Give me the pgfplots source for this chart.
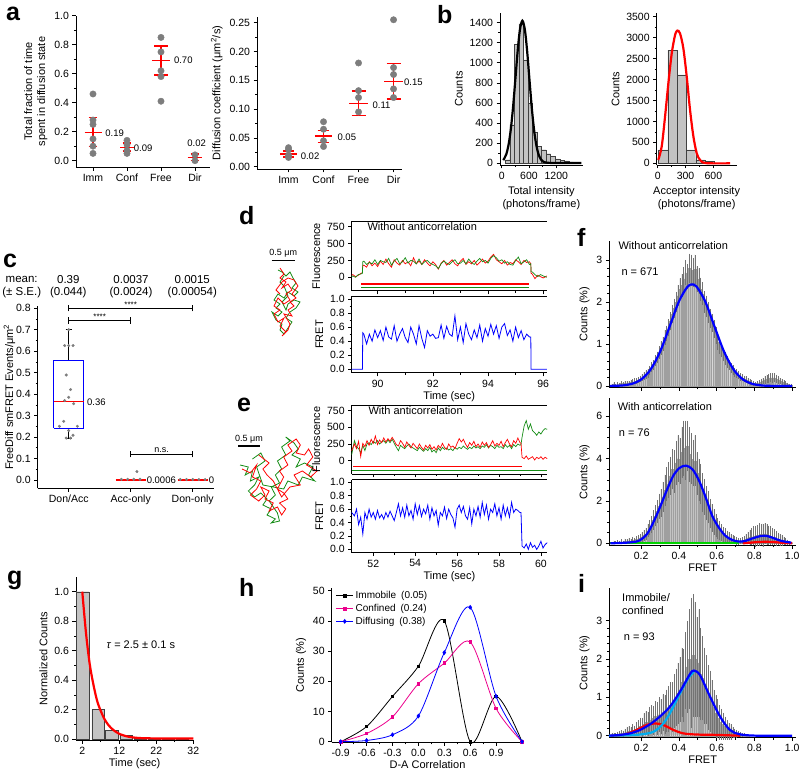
\documentclass[border=0pt]{standalone}
\usepackage{fontspec}
\setmainfont{Liberation Sans}
\usepackage{pgfplots}
\usepackage{pgfplotstable}
\pgfplotsset{compat=1.18}
\newcommand\fs[1]{\fontsize{#1}{#1}\selectfont}
\definecolor{dgreen}{RGB}{20,140,20}
\definecolor{hgray}{RGB}{195,195,195}
\definecolor{dotgray}{RGB}{125,125,125}
\definecolor{fgreen}{RGB}{0,210,0}
\pgfplotsset{
  base/.style={scale only axis, anchor=south west, tick align=outside,
    axis line style={black, line width=0.6pt}, tick style={black, line width=0.6pt},
    major tick length=3.5pt, minor tick length=2pt,
    tick label style={font=\fontsize{10.5}{12}\selectfont},
    label style={font=\fontsize{11}{13}\selectfont},
    /pgf/number format/assume math mode=true, /pgf/number format/1000 sep={},
    scaled ticks=false, clip=false, unbounded coords=jump},
  la/.style={base, axis x line*=bottom, axis y line*=left, xtick pos=left, ytick pos=left},
  bx/.style={base, axis x line*=box, axis y line*=left, xtick pos=left, ytick pos=left},
  p1/.style={yticklabel style={/pgf/number format/.cd,fixed,fixed zerofill,precision=1}},
  p2/.style={yticklabel style={/pgf/number format/.cd,fixed,fixed zerofill,precision=2}},
  hist/.style={ybar, bar width=0.0085, bar shift=0pt, fill=hgray, draw=gray!75, line width=0.15pt,
    error bars/.cd, y dir=both, y explicit, error mark=none, error bar style={black!55, line width=0.3pt}},
}
% ---------------- data tables ----------------
\pgfplotstableread{
t r g f
89.06 30 10 0
89.1 40 20 0
89.2 10 0 0
89.3 30 40 0
89.4 60 50 0
89.45 70 60 0
89.46 170 230 0.52
89.5 180 240 0.5
89.6 150 190 0.36
89.7 230 220 0.5
89.8 170 200 0.4
89.9 210 260 0.56
90.0 160 190 0.45
90.1 240 250 0.55
90.2 190 230 0.41
90.3 270 220 0.6
90.4 200 280 0.46
90.5 150 180 0.43
90.6 260 240 0.62
90.7 210 280 0.4
90.8 180 200 0.5
90.9 250 230 0.58
91.0 200 290 0.45
91.1 230 210 0.38
91.2 170 250 0.6
91.3 290 240 0.5
91.4 200 200 0.36
91.5 240 270 0.62
91.6 190 190 0.44
91.7 260 230 0.31
91.8 210 250 0.55
91.9 170 210 0.47
92.0 230 190 0.5
92.1 190 170 0.44
92.2 120 130 0.45
92.3 210 200 0.63
92.4 250 240 0.44
92.5 180 210 0.61
92.6 220 190 0.5
92.7 260 230 0.47
92.8 200 260 0.76
92.9 170 200 0.42
93.0 240 210 0.6
93.1 280 250 0.38
93.2 190 200 0.65
93.3 230 270 0.5
93.4 200 220 0.42
93.5 250 190 0.56
93.6 180 240 0.45
93.7 220 280 0.63
93.8 270 230 0.4
93.9 210 250 0.58
94.0 240 210 0.47
94.1 300 280 0.64
94.2 340 320 0.5
94.3 260 290 0.62
94.4 230 240 0.44
94.5 200 260 0.6
94.6 250 210 0.65
94.7 180 230 0.48
94.8 220 190 0.56
94.9 200 180 0.4
95.0 260 250 0.6
95.1 230 300 0.45
95.2 190 200 0.55
95.3 250 230 0.42
95.4 220 260 0.5
95.5 230 190 0.46
95.55 200 200 0.46
95.56 60 80 0
95.6 50 80 0
95.7 -20 40 0
95.8 30 10 0
95.9 10 40 0
96.0 -10 20 0
96.13 20 0 0
}\dtab
\pgfplotstableread{
t r g f
50.97 150 90 0.55
51.1 250 300 0.5
51.2 180 210 0.6
51.3 290 180 0.37
51.4 60 120 0.48
51.5 260 230 0.23
51.6 210 150 0.55
51.7 300 250 0.45
51.8 230 270 0.6
51.9 320 240 0.48
52.0 260 290 0.55
52.1 370 260 0.45
52.2 240 300 0.58
52.3 310 250 0.47
52.4 270 280 0.52
52.5 340 300 0.45
52.6 280 260 0.55
52.7 330 310 0.48
52.8 290 270 0.57
52.9 350 320 0.5
53.0 300 260 0.43
53.1 240 200 0.55
53.2 220 150 0.68
53.3 300 230 0.5
53.4 260 200 0.62
53.5 200 180 0.48
53.6 280 220 0.66
53.7 230 250 0.5
53.8 190 210 0.58
53.9 260 190 0.45
54.0 220 170 0.68
54.1 180 150 0.52
54.2 250 200 0.65
54.3 200 170 0.49
54.4 160 140 0.6
54.5 230 180 0.53
54.6 190 150 0.66
54.7 240 200 0.45
54.8 170 130 0.62
54.9 210 160 0.5
55.0 160 120 0.58
55.1 230 190 0.36
55.2 190 150 0.55
55.3 260 200 0.5
55.4 200 170 0.63
55.5 170 190 0.46
55.6 250 160 0.6
55.7 200 180 0.52
55.8 220 150 0.47
55.9 180 200 0.33
56.0 260 170 0.6
56.1 330 200 0.66
56.2 280 180 0.55
56.3 320 220 0.64
56.4 250 190 0.5
56.5 200 170 0.45
56.6 270 200 0.62
56.7 230 180 0.38
56.8 290 220 0.6
56.9 210 190 0.5
57.0 250 210 0.64
57.1 200 180 0.48
57.2 280 220 0.7
57.3 230 200 0.52
57.4 270 240 0.66
57.5 200 190 0.45
57.6 240 230 0.6
57.7 300 210 0.55
57.8 220 180 0.68
57.9 260 230 0.5
58.0 230 200 0.62
58.1 290 210 0.45
58.2 210 180 0.66
58.3 270 240 0.5
58.4 320 200 0.62
58.5 250 230 0.48
58.6 210 180 0.7
58.7 300 240 0.55
58.8 260 210 0.6
58.9 340 250 0.58
59.0 270 230 0.55
59.05 260 240 0.55
59.1 50 350 0.05
59.2 30 520 0.02
59.3 70 600 0.08
59.4 20 470 0.0
59.5 40 550 0.1
59.6 60 450 0.03
59.7 10 420 0.06
59.8 50 380 0.0
59.9 30 430 0.05
60.0 60 400 0.12
60.1 20 450 0.02
60.2 50 480 0.07
60.3 30 470 0.1
}\etab
\pgfplotstableread{
x y e
0.045 0.03 0.03
0.055 0.05 0.04
0.065 0.02 0.03
0.075 0.05 0.04
0.085 0.04 0.04
0.095 0.06 0.05
0.105 0.05 0.04
0.115 0.07 0.05
0.125 0.06 0.05
0.135 0.08 0.05
0.145 0.09 0.06
0.155 0.1 0.06
0.165 0.12 0.06
0.175 0.11 0.07
0.185 0.15 0.07
0.195 0.17 0.08
0.205 0.2 0.08
0.215 0.24 0.09
0.225 0.27 0.1
0.235 0.3 0.1
0.245 0.37 0.11
0.255 0.45 0.12
0.265 0.5 0.12
0.275 0.6 0.13
0.285 0.68 0.14
0.295 0.8 0.15
0.305 0.9 0.16
0.315 1.0 0.17
0.325 1.15 0.18
0.335 1.25 0.19
0.345 1.4 0.2
0.355 1.55 0.21
0.365 1.72 0.22
0.375 1.85 0.23
0.385 2.0 0.24
0.395 2.15 0.25
0.405 2.3 0.26
0.415 2.4 0.27
0.425 2.55 0.28
0.435 2.7 0.3
0.445 2.6 0.3
0.455 2.8 0.35
0.465 2.75 0.38
0.475 2.7 0.35
0.485 2.78 0.35
0.495 2.55 0.3
0.505 2.5 0.3
0.515 2.3 0.28
0.525 2.2 0.27
0.535 2.0 0.26
0.545 1.9 0.25
0.555 1.75 0.24
0.565 1.6 0.23
0.575 1.5 0.22
0.585 1.35 0.21
0.595 1.2 0.2
0.605 1.05 0.19
0.615 0.95 0.18
0.625 0.85 0.17
0.635 0.75 0.16
0.645 0.65 0.15
0.655 0.58 0.14
0.665 0.5 0.13
0.675 0.42 0.12
0.685 0.38 0.11
0.695 0.33 0.11
0.705 0.3 0.1
0.715 0.26 0.1
0.725 0.22 0.09
0.735 0.2 0.09
0.745 0.17 0.08
0.755 0.15 0.08
0.765 0.12 0.07
0.775 0.1 0.07
0.785 0.08 0.06
0.795 0.06 0.05
0.805 0.05 0.05
0.815 0.06 0.05
0.825 0.08 0.06
0.835 0.1 0.07
0.845 0.12 0.08
0.855 0.15 0.09
0.865 0.17 0.1
0.875 0.18 0.1
0.885 0.2 0.11
0.895 0.19 0.11
0.905 0.2 0.11
0.915 0.17 0.1
0.925 0.15 0.09
0.935 0.12 0.08
0.945 0.1 0.07
0.955 0.08 0.06
0.965 0.06 0.05
0.975 0.04 0.04
0.985 0.03 0.03
0.995 0.02 0.03
}\ftop
\pgfplotstableread{
x y e
0.045 0.02 0.05
0.055 0.05 0.08
0.065 0.03 0.06
0.075 0.06 0.08
0.085 0.04 0.07
0.095 0.08 0.1
0.105 0.05 0.08
0.115 0.1 0.12
0.125 0.08 0.1
0.135 0.12 0.13
0.145 0.1 0.12
0.155 0.15 0.15
0.165 0.12 0.13
0.175 0.18 0.16
0.185 0.2 0.17
0.195 0.25 0.2
0.205 0.3 0.22
0.215 0.38 0.25
0.225 0.45 0.28
0.235 0.6 0.32
0.245 0.75 0.36
0.255 0.9 0.4
0.265 1.1 0.45
0.275 1.3 0.5
0.285 1.5 0.55
0.295 1.75 0.6
0.305 1.9 0.65
0.315 2.2 0.7
0.325 2.5 0.75
0.335 2.8 0.8
0.345 3.0 0.85
0.355 3.2 0.9
0.365 3.5 0.95
0.375 3.4 1.0
0.385 3.8 1.05
0.395 4.0 1.1
0.405 3.9 1.1
0.415 4.3 1.2
0.425 4.5 1.3
0.435 4.4 1.4
0.445 4.6 1.2
0.455 4.2 1.3
0.465 4.0 1.2
0.475 3.8 1.1
0.485 3.9 1.2
0.495 3.3 1.0
0.505 3.0 1.0
0.515 2.8 0.95
0.525 2.4 0.9
0.535 2.2 0.85
0.545 1.9 0.8
0.555 1.7 0.75
0.565 1.4 0.7
0.575 1.2 0.65
0.585 1.0 0.6
0.595 0.85 0.55
0.605 0.7 0.5
0.615 0.6 0.45
0.625 0.5 0.4
0.635 0.4 0.38
0.645 0.35 0.35
0.655 0.3 0.3
0.665 0.25 0.28
0.675 0.2 0.25
0.685 0.18 0.22
0.695 0.15 0.2
0.705 0.12 0.18
0.715 0.1 0.16
0.725 0.1 0.15
0.735 0.12 0.16
0.745 0.15 0.2
0.755 0.2 0.25
0.765 0.25 0.3
0.775 0.28 0.35
0.785 0.3 0.4
0.795 0.35 0.45
0.805 0.32 0.5
0.815 0.38 0.5
0.825 0.4 0.55
0.835 0.42 0.5
0.845 0.38 0.55
0.855 0.45 0.5
0.865 0.4 0.5
0.875 0.38 0.45
0.885 0.35 0.45
0.895 0.3 0.4
0.905 0.28 0.38
0.915 0.22 0.35
0.925 0.2 0.3
0.935 0.15 0.28
0.945 0.12 0.25
0.955 0.1 0.2
0.965 0.08 0.18
0.975 0.05 0.12
0.985 0.03 0.1
0.995 0.02 0.06
}\fbot
\pgfplotstableread{
x y e
0.045 0.02 0.04
0.055 0.03 0.05
0.065 0.02 0.04
0.075 0.04 0.06
0.085 0.05 0.07
0.095 0.06 0.08
0.105 0.05 0.08
0.115 0.08 0.1
0.125 0.1 0.12
0.135 0.12 0.13
0.145 0.1 0.12
0.155 0.15 0.15
0.165 0.12 0.14
0.175 0.18 0.18
0.185 0.2 0.2
0.195 0.25 0.22
0.205 0.22 0.25
0.215 0.3 0.28
0.225 0.35 0.3
0.235 0.3 0.32
0.245 0.4 0.35
0.255 0.45 0.35
0.265 0.4 0.38
0.275 0.5 0.4
0.285 0.45 0.42
0.295 0.55 0.45
0.305 0.5 0.45
0.315 0.6 0.48
0.325 0.55 0.5
0.335 0.65 0.55
0.345 0.7 0.6
0.355 0.8 0.6
0.365 0.75 0.65
0.375 0.9 0.7
0.385 1.0 0.75
0.395 1.1 0.8
0.405 1.2 0.85
0.415 1.4 0.9
0.425 1.3 0.95
0.435 1.7 1.0
0.445 1.8 1.2
0.455 2.0 1.3
0.465 1.9 1.7
0.475 2.1 1.6
0.485 2.0 1.5
0.495 1.8 1.3
0.505 1.9 1.4
0.515 1.6 1.2
0.525 1.5 1.1
0.535 1.3 1.0
0.545 1.2 0.9
0.555 1.0 0.85
0.565 0.9 0.8
0.575 0.75 0.7
0.585 0.6 0.6
0.595 0.5 0.55
0.605 0.45 0.5
0.615 0.35 0.45
0.625 0.3 0.4
0.635 0.25 0.35
0.645 0.2 0.3
0.655 0.15 0.25
0.665 0.12 0.22
0.675 0.1 0.2
0.685 0.08 0.15
0.695 0.06 0.12
0.705 0.05 0.1
0.715 0.04 0.08
0.725 0.03 0.06
0.735 0.02 0.05
0.745 0.02 0.04
0.755 0.01 0.03
0.765 0.01 0.02
}\itab
\begin{document}
\begin{tikzpicture}[x=1pt,y=1pt]
\useasboundingbox (0,0) rectangle (800,770);
% ================= a (left) =================
\begin{axis}[la, p1, at={(76pt,602.8pt)}, width=134.3pt, height=151.5pt,
  xmin=0.5, xmax=4.45, ymin=-0.045, ymax=1.0,
  xtick={1,2,3,4}, xticklabels={Imm,Conf,Free,Dir},
  ytick={0,0.2,0.4,0.6,0.8,1.0}, minor y tick num=1,
  ylabel={Total fraction of time\\spent in diffusion state}, ylabel style={align=center}]
\addplot[only marks, mark=*, mark size=3.2pt, dotgray] coordinates {(1,0.46)(1,0.05)(1,0.1)(1,0.15)(1,0.25)(1,0.28)(2,0.14)(2,0.05)(2,0.07)(2,0.11)(3,0.85)(3,0.41)(3,0.58)(3,0.62)(3,0.75)(4,0.0)(4,0.04)};
\addplot[red, line width=1.6pt] coordinates {
(0.75,0.195)(1.25,0.195)(nan,nan)(1,0.097)(1,0.297)(nan,nan)(0.87,0.097)(1.13,0.097)(nan,nan)(0.87,0.297)(1.13,0.297)(nan,nan)
(1.8,0.09)(2.2,0.09)(nan,nan)(2,0.065)(2,0.12)(nan,nan)(1.87,0.065)(2.13,0.065)(nan,nan)(1.87,0.12)(2.13,0.12)(nan,nan)
(2.73,0.69)(3.27,0.69)(nan,nan)(3,0.59)(3,0.79)(nan,nan)(2.8,0.59)(3.2,0.59)(nan,nan)(2.8,0.79)(3.2,0.79)(nan,nan)
(3.78,0.022)(4.22,0.022)(nan,nan)(4,-0.01)(4,0.05)(nan,nan)(3.87,0.0)(4.13,0.0)(nan,nan)(3.87,0.045)(4.13,0.045)};
\node[anchor=west, font=\fs{9.5}] at (axis cs:1.26,0.19) {0.19};
\node[anchor=west, font=\fs{9.5}] at (axis cs:2.1,0.088) {0.09};
\node[anchor=west, font=\fs{9.5}] at (axis cs:3.28,0.69) {0.70};
\node[anchor=south, font=\fs{9.5}] at (axis cs:4.05,0.07) {0.02};
\end{axis}
% ================= a (right) =================
\begin{axis}[la, p2, at={(257pt,601pt)}, width=145.3pt, height=152.1pt,
  xmin=0.1, xmax=4.25, ymin=-0.004, ymax=0.26,
  xtick={1,2,3,4}, xticklabels={Imm,Conf,Free,Dir},
  ytick={0,0.05,0.10,0.15,0.20,0.25}, minor y tick num=1,
  ylabel={Diffusion coefficient (μm\textsuperscript{2}/s)}]
\addplot[only marks, mark=*, mark size=3.2pt, dotgray] coordinates {(1,0.033)(1,0.03)(1,0.016)(1,0.02)(2,0.078)(2,0.035)(2,0.065)(2,0.045)(3,0.18)(3,0.132)(3,0.12)(3,0.095)(4,0.255)(4,0.172)(4,0.16)(4,0.135)(4,0.12)};
\addplot[red, line width=1.6pt] coordinates {
(0.75,0.022)(1.25,0.022)(nan,nan)(1,0.015)(1,0.028)(nan,nan)(0.85,0.017)(1.15,0.017)(nan,nan)(0.85,0.027)(1.15,0.027)(nan,nan)
(1.75,0.053)(2.25,0.053)(nan,nan)(2,0.042)(2,0.063)(nan,nan)(1.83,0.042)(2.17,0.042)(nan,nan)(1.83,0.063)(2.17,0.063)(nan,nan)
(2.73,0.11)(3.27,0.11)(nan,nan)(3,0.089)(3,0.131)(nan,nan)(2.8,0.089)(3.2,0.089)(nan,nan)(2.8,0.131)(3.2,0.131)(nan,nan)
(3.73,0.148)(4.27,0.148)(nan,nan)(4,0.117)(4,0.179)(nan,nan)(3.8,0.117)(4.2,0.117)(nan,nan)(3.8,0.179)(4.2,0.179)};
\node[anchor=west, font=\fs{9.5}] at (axis cs:1.25,0.019) {0.02};
\node[anchor=west, font=\fs{9.5}] at (axis cs:2.3,0.051) {0.05};
\node[anchor=west, font=\fs{9.5}] at (axis cs:3.3,0.107) {0.11};
\node[anchor=west, font=\fs{9.5}] at (axis cs:4.2,0.146) {0.15};
\end{axis}
% ================= b (left) =================
\begin{axis}[la, at={(500pt,605pt)}, width=82.7pt, height=152.3pt,
  xmin=-37, xmax=1780, ymin=-20, ymax=1500,
  xtick={0,600,1200}, minor x tick num=1,
  ytick={0,200,400,600,800,1000,1200,1400}, minor y tick num=1,
  xlabel={Total intensity\\(photons/frame)}, xlabel style={align=center},
  ylabel={Counts}]
\addplot[ybar interval, fill=hgray, draw=gray!50!black, line width=0.3pt] coordinates {(75,33)(175,382)(275,1184)(375,1390)(475,1028)(575,597)(675,305)(775,166)(875,133)(975,93)(1075,66)(1175,40)(1275,25)(1375,20)(1475,12)(1575,8)(1675,8)};
\addplot[black, line width=2.2pt, smooth] coordinates {(35,28)(100,86)(150,180)(200,335)(250,558)(300,833)(350,1112)(400,1328)(455,1420)(510,1328)(560,1112)(610,833)(660,558)(710,335)(760,180)(810,86)(860,37)(910,14)(960,5)(1050,1)(1200,0)(1500,0)(1750,0)};
\end{axis}
% ================= b (right) =================
\begin{axis}[la, at={(656.7pt,605pt)}, width=79.8pt, height=151.6pt,
  xmin=-10.8, xmax=850, ymin=-40, ymax=3580,
  xtick={0,300,600}, minor x tick num=1,
  ytick={0,500,1000,1500,2000,2500,3000,3500}, minor y tick num=1,
  xlabel={Acceptor intensity\\(photons/frame)}, xlabel style={align=center},
  ylabel={Counts}]
\addplot[ybar interval, fill=hgray, draw=gray!50!black, line width=0.3pt] coordinates {(10,318)(110,2700)(210,2110)(310,318)(410,80)(510,40)(610,10)(710,10)};
\addplot[red, line width=2.2pt, smooth] coordinates {(6,80)(43,400)(79,1110)(115,1910)(151,2620)(187,3060)(212,3170)(241,3100)(277,2740)(313,2070)(349,1270)(385,640)(421,240)(457,80)(520,5)(780,0)};
\end{axis}
% ================= c =================
\begin{axis}[la, p1, at={(37.7pt,281.7pt)}, width=176.7pt, height=182.2pt,
  xmin=0.5, xmax=3.35, ymin=-0.039, ymax=0.81,
  xtick={1,2,3}, xticklabels={Don/Acc,Acc-only,Don-only},
  ytick={0,0.1,0.2,0.3,0.4,0.5,0.6,0.7,0.8}, minor y tick num=1,
  ylabel={FreeDiff smFRET Events/μm\textsuperscript{2}}, ylabel shift=-6pt]
\addplot[black, line width=0.8pt] coordinates {(1,0.555)(1,0.70)(nan,nan)(0.95,0.70)(1.05,0.70)(nan,nan)(1,0.24)(1,0.195)(nan,nan)(0.95,0.195)(1.05,0.195)};
\addplot[blue, line width=1pt] coordinates {(0.758,0.24)(1.242,0.24)(1.242,0.555)(0.758,0.555)(0.758,0.24)};
\addplot[blue, line width=1pt] coordinates {(1.76,0.0006)(2.24,0.0006)(nan,nan)(2.76,0.0)(3.24,0.0)};
\addplot[red, line width=1.2pt] coordinates {(0.758,0.365)(1.242,0.365)(nan,nan)(1.76,0.0)(2.24,0.0)(nan,nan)(2.76,0.0)(3.24,0.0)};
\addplot[only marks, mark=*, mark size=1.3pt, dotgray] coordinates {(0.935,0.626)(1.0,0.626)(1.07,0.626)(0.96,0.489)(1.03,0.421)(1.0,0.385)(0.935,0.37)(1.08,0.355)(0.92,0.273)(0.85,0.25)(1.14,0.25)(1.0,0.23)(1.07,0.208)(0.96,0.195)(1.03,0.195)(1.0,0.70)
(2.1,0.039)(1.85,0.003)(1.95,0.003)(2.05,0.003)(2.15,0.003)(2.8,0.002)(2.9,0.002)(3.0,0.002)(3.1,0.002)(3.2,0.002)};
\addplot[black, line width=0.8pt] coordinates {(1,0.785)(1,0.815)(nan,nan)(1,0.8)(3,0.8)(nan,nan)(3,0.785)(3,0.815)(nan,nan)
(1,0.728)(1,0.758)(nan,nan)(1,0.743)(2,0.743)(nan,nan)(2,0.728)(2,0.758)(nan,nan)
(2,0.105)(2,0.135)(nan,nan)(2,0.12)(3,0.12)(nan,nan)(3,0.105)(3,0.135)};
\node[anchor=south, font=\fs{8}, inner sep=1pt] at (axis cs:2,0.8) {****};
\node[anchor=south, font=\fs{8}, inner sep=1pt] at (axis cs:1.5,0.743) {****};
\node[anchor=south, font=\fs{9}, inner sep=1.5pt] at (axis cs:2.5,0.12) {n.s.};
\node[anchor=west, font=\fs{9.5}] at (axis cs:1.24,0.36) {0.36};
\node[anchor=west, font=\fs{9.5}, inner sep=1pt] at (axis cs:2.24,0.0) {0.0006};
\node[anchor=west, font=\fs{9.5}, inner sep=1pt] at (axis cs:3.24,0.0) {0};
\end{axis}
% ================= d trajectory =================
\begin{axis}[scale only axis, anchor=south west, at={(268pt,432pt)}, width=34pt, height=70pt,
  xmin=0, xmax=34, ymin=0, ymax=70, hide axis, clip=false]
\addplot[dgreen, line width=0.8pt] coordinates {(10,68)(14,66)(18,62)(22,66)(25,60)(28,55)(24,50)(30,46)(26,42)(20,46)(16,40)(10,44)(6,38)(12,34)(8,30)(14,26)(10,22)(4,26)(8,18)(14,14)(12,8)(16,4)(20,10)(24,16)(18,20)(22,26)(28,30)(32,36)(26,38)(20,34)(18,28)(14,36)(20,42)(16,52)(12,56)(16,62)};
\addplot[red, line width=0.8pt] coordinates {(12,70)(16,64)(12,60)(18,56)(14,50)(20,54)(24,48)(18,44)(22,38)(16,34)(10,40)(6,32)(12,28)(6,24)(10,16)(16,20)(12,12)(18,6)(14,2)(20,8)(22,14)(16,24)(24,22)(20,28)(26,32)(22,36)(28,40)(24,44)(30,52)(26,58)(20,60)(14,56)(8,48)(12,44)};
\end{axis}
% ================= d fluorescence =================
\begin{axis}[bx, at={(351.7pt,479.2pt)}, width=195.1pt, height=69.5pt,
  xmin=89.06, xmax=96.13, ymin=-200, ymax=830,
  xtick={90,92,94,96}, minor x tick num=1, xticklabels={},
  ytick={0,250,500,750}, ylabel={Fluorescence}]
\addplot[red, line width=0.7pt] table[x=t, y=r] {\dtab};
\addplot[dgreen, line width=0.7pt] table[x=t, y=g] {\dtab};
\addplot[red, line width=1.6pt] coordinates {(89.4,-100)(95.5,-100)};
\addplot[dgreen, line width=1.6pt] coordinates {(89.4,-150)(95.5,-150)};
\end{axis}
% ================= d FRET =================
\begin{axis}[bx, p1, at={(351.7pt,397.2pt)}, width=195.1pt, height=76.6pt,
  xmin=89.06, xmax=96.13, ymin=-0.05, ymax=1.04,
  xtick={90,92,94,96}, minor x tick num=1,
  ytick={0,0.2,0.4,0.6,0.8,1.0}, minor y tick num=1,
  xlabel={Time (sec)}, ylabel={FRET}, xlabel style={yshift=3pt}]
\addplot[blue, line width=0.8pt] table[x=t, y=f] {\dtab};
\end{axis}
% ================= e trajectory =================
\begin{axis}[scale only axis, anchor=south west, at={(240pt,245pt)}, width=78pt, height=88pt,
  xmin=0, xmax=75, ymin=0, ymax=88, hide axis, clip=false]
\addplot[dgreen, line width=0.8pt] coordinates {(0,60)(8,58)(5,50)(12,54)(10,44)(18,48)(14,40)(8,34)(14,28)(20,32)(26,26)(22,20)(30,16)(26,10)(34,6)(30,2)(38,4)(36,12)(28,24)(34,30)(30,38)(38,42)(34,50)(40,56)(36,64)(44,70)(40,78)(48,84)(44,88)(52,82)(56,76)(50,70)(58,66)(54,58)(62,62)(70,58)(66,50)(72,44)(60,48)(56,40)(46,44)(42,36)(22,40)(16,58)(24,64)(20,72)(12,66)};
\addplot[red, line width=0.8pt] coordinates {(2,56)(10,52)(16,60)(12,48)(20,44)(16,36)(10,30)(18,24)(24,30)(20,38)(28,34)(24,26)(32,22)(28,14)(36,18)(40,10)(44,16)(38,22)(46,26)(42,32)(36,36)(42,48)(38,54)(46,60)(42,68)(50,74)(46,80)(54,86)(58,80)(54,72)(62,70)(66,76)(70,68)(64,60)(74,54)(68,48)(60,54)(52,50)(58,40)(48,38)(40,28)(32,44)(26,50)(22,56)(28,62)(18,70)};
\end{axis}
% ================= e fluorescence =================
\begin{axis}[bx, at={(351.7pt,296pt)}, width=195.5pt, height=68.7pt,
  xmin=50.97, xmax=60.3, ymin=-200, ymax=830,
  xtick={52,54,56,58,60}, minor x tick num=1, xticklabels={},
  ytick={0,250,500,750}, ylabel={Fluorescence}]
\addplot[dgreen, line width=0.7pt] table[x=t, y=g] {\etab};
\addplot[red, line width=0.7pt] table[x=t, y=r] {\etab};
\addplot[red, line width=1.6pt] coordinates {(51.05,-90)(59.1,-90)};
\addplot[dgreen, line width=1.6pt] coordinates {(50.97,-150)(60.3,-150)};
\end{axis}
% ================= e FRET =================
\begin{axis}[bx, p1, at={(351.7pt,217.3pt)}, width=195.5pt, height=73pt,
  xmin=50.97, xmax=60.3, ymin=-0.05, ymax=1.04,
  xtick={52,54,56,58,60}, minor x tick num=1,
  ytick={0,0.2,0.4,0.6,0.8,1.0}, minor y tick num=1,
  xlabel={Time (sec)}, ylabel={FRET}, xlabel style={yshift=3pt}]
\addplot[blue, line width=0.8pt] table[x=t, y=f] {\etab};
\end{axis}
% ================= f top =================
\begin{axis}[la, at={(609.3pt,382.7pt)}, width=186.7pt, height=146.2pt,
  xmin=0.032, xmax=1.02, ymin=-0.03, ymax=3.45,
  xtick={0.2,0.4,0.6,0.8,1.0}, minor x tick num=1, xticklabels={},
  ytick={0,1,2,3}, minor y tick num=4, ylabel={Counts (\%)}]
\addplot[hist] table[x=x, y=y, y error=e] {\ftop};
\addplot[blue, line width=2.2pt, smooth] coordinates {(0.035,0.003)(0.1,0.013)(0.15,0.05)(0.2,0.155)(0.25,0.39)(0.3,0.81)(0.35,1.4)(0.4,2.01)(0.445,2.36)(0.47,2.42)(0.495,2.36)(0.54,2.01)(0.59,1.4)(0.64,0.81)(0.69,0.39)(0.74,0.155)(0.79,0.05)(0.84,0.013)(0.9,0.003)(1.0,0.0)};
\end{axis}
% ================= f bottom =================
\begin{axis}[la, at={(609.3pt,224.6pt)}, width=186.7pt, height=147pt,
  xmin=0.032, xmax=1.02, ymin=-0.1, ymax=6.85,
  xtick={0.2,0.4,0.6,0.8,1.0}, minor x tick num=1,
  xticklabel style={/pgf/number format/.cd,fixed,fixed zerofill,precision=1},
  ytick={0,2,4,6}, minor y tick num=3, ylabel={Counts (\%)}, xlabel={FRET}, xlabel style={yshift=3pt}]
\addplot[hist] table[x=x, y=y, y error=e] {\fbot};
\addplot[fgreen, line width=2pt] coordinates {(0.035,0)(0.72,0)};
\addplot[red, line width=2.2pt, smooth] coordinates {(0.74,0)(0.78,0.03)(0.82,0.06)(0.86,0.07)(0.9,0.06)(0.94,0.03)(1.0,0.0)};
\addplot[blue, line width=2.2pt, smooth] coordinates {(0.038,0)(0.125,0.03)(0.186,0.11)(0.23,0.42)(0.264,0.97)(0.299,1.68)(0.334,2.46)(0.369,3.17)(0.403,3.56)(0.438,3.67)(0.473,3.49)(0.508,2.94)(0.543,2.15)(0.577,1.29)(0.612,0.74)(0.647,0.35)(0.682,0.16)(0.717,0.08)(0.751,0.11)(0.786,0.22)(0.838,0.35)(0.873,0.33)(0.908,0.22)(0.943,0.11)(0.995,0.03)};
\end{axis}
% ================= g =================
\begin{axis}[la, p1, at={(76pt,29.8pt)}, width=117.3pt, height=163.2pt,
  xmin=0.3, xmax=32, ymin=-0.008, ymax=1.1,
  xtick={2,12,22,32}, minor x tick num=1,
  ytick={0,0.2,0.4,0.6,0.8,1.0}, minor y tick num=1,
  xlabel={Time (sec)}, ylabel={Normalized Counts}, xlabel style={yshift=3pt}]
\addplot[ybar, bar width=3.4, bar shift=0pt, fill=hgray, draw=gray!50!black, line width=0.3pt] coordinates {(2.05,1.0)(6.3,0.2)(10,0.06)(13.8,0.025)(17.6,0.007)(21.4,0.004)(25.2,0.003)(29,0.002)};
\addplot[red, line width=2.2pt, smooth] coordinates {(2,1.0)(3,0.72)(4,0.51)(5,0.37)(6,0.26)(7,0.19)(8,0.135)(9,0.097)(10,0.07)(11,0.05)(12,0.035)(14,0.018)(16,0.01)(18,0.006)(22,0.004)(27,0.004)(32,0.004)};
\end{axis}
% ================= h =================
\begin{axis}[la, at={(331.7pt,27.7pt)}, width=191.6pt, height=154pt,
  xmin=-1.004, xmax=1.215, ymin=-0.2, ymax=50.8,
  xtick={-0.9,-0.6,-0.3,0,0.3,0.6,0.9}, minor x tick num=1,
  xticklabel style={/pgf/number format/.cd,fixed,fixed zerofill,precision=1},
  ytick={0,10,20,30,40,50},
  xlabel={D-A Correlation}, ylabel={Counts (\%)}, xlabel style={yshift=3pt},
  legend style={at={(0.015,1.0)}, anchor=north west, draw=none, fill=none,
    font=\fontsize{10}{12}\selectfont, row sep=0pt, inner sep=1pt},
  legend cell align=left]
\addplot[black, line width=0.8pt, smooth, mark=square*, mark size=1.3pt] coordinates {(-0.9,0)(-0.6,5)(-0.3,15)(0,25)(0.3,40)(0.6,0)(0.9,15)(1.2,0)};
\addlegendentry{Immobile\enspace(0.05)}
\addplot[magenta, line width=0.8pt, smooth, mark=square*, mark size=1.3pt] coordinates {(-0.9,0)(-0.6,2.7)(-0.3,8.2)(0,19.2)(0.3,26)(0.6,33)(0.9,11)(1.2,0)};
\addlegendentry{Confined\enspace(0.24)}
\addplot[blue, line width=0.8pt, smooth, mark=diamond*, mark size=1.8pt] coordinates {(-0.9,0)(-0.6,0.4)(-0.3,2.3)(0,8.5)(0.3,29.5)(0.6,44.5)(0.9,15)(1.2,0)};
\addlegendentry{Diffusing\enspace(0.38)}
\end{axis}
% ================= i =================
\begin{axis}[la, at={(609.3pt,32.4pt)}, width=186.7pt, height=149.4pt,
  xmin=0.032, xmax=1.02, ymin=-0.05, ymax=3.85,
  xtick={0.2,0.4,0.6,0.8,1.0}, minor x tick num=1,
  xticklabel style={/pgf/number format/.cd,fixed,fixed zerofill,precision=1},
  ytick={0,1,2,3}, minor y tick num=4, ylabel={Counts (\%)}, xlabel={FRET}, xlabel style={yshift=3pt}]
\addplot[hist] table[x=x, y=y, y error=e] {\itab};
\addplot[red, line width=2.2pt, smooth] coordinates {(0.036,0)(0.107,0.02)(0.177,0.15)(0.23,0.28)(0.274,0.32)(0.318,0.28)(0.371,0.15)(0.424,0.06)(0.494,0.03)(0.6,0.02)(0.723,0.0)};
\addplot[cyan, line width=2.2pt, smooth] coordinates {(0.03,0)(0.124,0.01)(0.195,0.03)(0.265,0.1)(0.318,0.32)(0.362,0.67)(0.406,1.1)(0.45,1.5)(0.48,1.67)};
\addplot[blue, line width=2.2pt, smooth] coordinates {(0.032,0)(0.089,0.02)(0.142,0.06)(0.195,0.15)(0.248,0.3)(0.3,0.5)(0.353,0.76)(0.406,1.15)(0.459,1.61)(0.48,1.70)(0.512,1.58)(0.565,1.02)(0.618,0.5)(0.67,0.15)(0.723,0.035)(0.811,0)(1.0,0)};
\end{axis}
% ================= texts =================
\begin{scope}[every node/.style={font=\fs{11.5}}]
\node at (21.7,490.7) {mean:};
\node at (21.7,477.3) {(± S.E.)};
\node at (68.3,490.7) {0.39};
\node at (68.3,477.3) {(0.044)};
\node at (131,490.7) {0.0037};
\node at (131,477.3) {(0.0024)};
\node at (192.3,490.7) {0.0015};
\node at (192.3,477.3) {(0.00054)};
\end{scope}
\draw[black, line width=1.5pt] (271.7,509.3) -- (295,509.3);
\node[font=\fs{9}] at (283.3,517) {0.5 μm};
\draw[black, line width=1.5pt] (238,324) -- (260,324);
\node[font=\fs{9}] at (249,331) {0.5 μm};
\node[anchor=west, font=\fs{11}] at (364,543) {Without anticorrelation};
\node[anchor=west, font=\fs{11}] at (365,359.3) {With anticorrelation};
\node[anchor=west, font=\fs{11}] at (615,524.3) {Without anticorrelation};
\node[anchor=west, font=\fs{11}] at (618,498.3) {n = 671};
\node[anchor=west, font=\fs{11}] at (614.3,363.3) {With anticorrelation};
\node[anchor=west, font=\fs{11}] at (615.3,337.7) {n = 76};
\node[anchor=west, font=\fs{11}] at (618.7,172.3) {Immobile/};
\node[anchor=west, font=\fs{11}] at (618.7,159) {confined};
\node[anchor=west, font=\fs{11}] at (620.3,133.3) {n = 93};
\node[anchor=west, font=\fs{11}] at (103,125.7) {\textit{τ} = 2.5 ± 0.1 s};
% panel letters
\begin{scope}[every node/.style={anchor=base west, font=\fontsize{25}{25}\bfseries, inner sep=0pt}]
\node at (6,749) {a};
\node at (437,746) {b};
\node at (3,502) {c};
\node at (239,545) {d};
\node at (237,358) {e};
\node at (577,523) {f};
\node at (7,185) {g};
\node at (239,173) {h};
\node at (578,177) {i};
\end{scope}
\end{tikzpicture}
\end{document}
